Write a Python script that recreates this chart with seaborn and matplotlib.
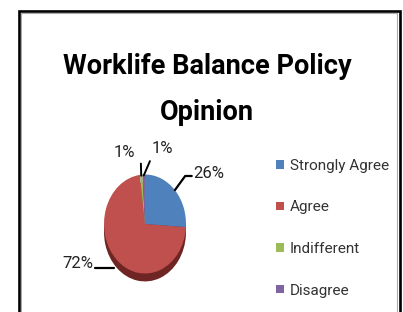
import matplotlib
matplotlib.use("Agg")
import matplotlib.pyplot as plt
import matplotlib.patches as mpatches
import numpy as np
import seaborn as sns

sns.set_theme(style="white")
plt.rcParams['font.family'] = ['Roboto', 'DejaVu Sans']

## data
categories = ["Strongly Agree", "Agree", "Indifferent", "Disagree"]
shares = [26, 72, 1, 1]
pct_labels = ["26%", "72%", "1%", "1%"]
colors = ["#4F81BD", "#C0504D", "#9BBB59", "#8064A2"]
side_colors = ["#2E4D73", "#6E2523", "#5C7133", "#4A3A60"]

# where each percentage label sits (data units of the pie axes) and its alignment
label_pos = [(1.17, 1.02), (-1.27, -0.8), (-0.5, 1.45), (0.42, 1.52)]
label_ha = ["left", "right", "center", "center"]
# elbow of each leader line
elbow_pos = [(0.98, 0.97), (-0.76, -0.89), (-0.1, 1.22), (0.12, 1.27)]

W, H = 403, 312
fig = plt.figure(figsize=(W / 100, H / 100), dpi=100)

## pie axes (pixel box 40..250 x 130..300)
ax = fig.add_axes([40 / W, 1 - 300 / H, 210 / W, 170 / H])

# side of the 3d pie
ax.pie(shares, colors=side_colors, startangle=90, counterclock=False,
       center=(0, -0.16), radius=1, frame=True,
       wedgeprops=dict(linewidth=0))
ax.add_patch(mpatches.Rectangle((-1, -0.16), 2, 0.16, color="#6E2523", lw=0, zorder=0.5))
wedges, _ = ax.pie(shares, colors=colors, startangle=90, counterclock=False,
                   radius=1, frame=True, wedgeprops=dict(linewidth=0))
ax.set_xlim(-2.561, 2.561)
ax.set_ylim(-1.535, 1.899)
ax.set_aspect("auto")
ax.axis("off")

for i, w in enumerate(wedges):
    mid = np.deg2rad((w.theta1 + w.theta2) / 2)
    x0, y0 = np.cos(mid), np.sin(mid)
    ex, ey = elbow_pos[i]
    lx, ly = label_pos[i]
    if i == 1:
        ax.plot([ex, lx + 0.05], [ey, ey], color="black", lw=1.6)
    elif i == 0:
        ax.plot([x0, ex, lx - 0.03], [y0, ey, ey], color="black", lw=1.6)
    else:
        ax.plot([x0 * 0.98, ex], [y0 * 0.98, ey], color="black", lw=1.4)
    ax.text(lx, ly, pct_labels[i], ha=label_ha[i], va="center",
            fontsize=12, color="#222222")

## title
fig.text(207 / W, 1 - 74 / H, "Worklife Balance Policy", ha="center", va="baseline",
         fontsize=19.5, fontweight="bold", color="black")
fig.text(207 / W, 1 - 120 / H, "Opinion", ha="center", va="baseline",
         fontsize=19.5, fontweight="bold", color="black")

## legend
leg = fig.legend(wedges, categories, loc="upper left",
                 bbox_to_anchor=(276 / W, 1 - 159 / H), frameon=False,
                 fontsize=11, handlelength=0.5, handleheight=0.5,
                 handletextpad=0.4, labelspacing=1.8, borderpad=0,
                 borderaxespad=0)
for t in leg.get_texts():
    t.set_color("#333333")

## chart border
fig.patches.append(mpatches.Rectangle((18.5 / W, -0.1), (399.5 - 18.5) / W, 1.1 - 11 / H,
                                      transform=fig.transFigure, fill=False,
                                      edgecolor="black", lw=1.9))
fig.patches.append(mpatches.Rectangle((20.5 / W, -0.1), (397 - 20.5) / W, 1.1 - 13 / H,
                                      transform=fig.transFigure, fill=False,
                                      edgecolor="#AAAAAA", lw=0.8))

plt.savefig("out.png", dpi=100)
